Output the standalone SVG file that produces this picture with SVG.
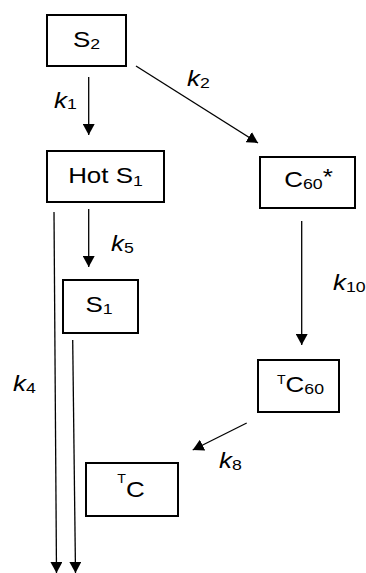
<svg xmlns="http://www.w3.org/2000/svg" width="366" height="573" viewBox="0 0 366 573">
<style>
.box{fill:#fff;stroke:#000;stroke-width:2}
.t{font-family:"Liberation Sans",Arial,sans-serif;font-size:22px;fill:#000}
.c{text-anchor:middle}
.k{font-style:italic}
.sub{font-style:normal;font-size:15px}
.sup{font-size:12px}
.ln{stroke:#000;stroke-width:1.3;fill:none}
</style>
<defs>
<marker id="ah" markerUnits="userSpaceOnUse" markerWidth="12" markerHeight="12" refX="11" refY="6" orient="auto">
<path d="M0,0 L11,6 L0,12 z" fill="#000"/>
</marker>
</defs>
<g id="connectors">
<line class="ln" x1="88.7" y1="77" x2="88.7" y2="135" marker-end="url(#ah)"/>
<line class="ln" x1="136" y1="66" x2="258" y2="143" marker-end="url(#ah)"/>
<line class="ln" x1="88.7" y1="209" x2="88.7" y2="267" marker-end="url(#ah)"/>
<line class="ln" x1="301.7" y1="221" x2="301.7" y2="345" marker-end="url(#ah)"/>
<line class="ln" x1="246.7" y1="423" x2="192.7" y2="450" marker-end="url(#ah)"/>
<line class="ln" x1="54" y1="212" x2="56.5" y2="573" marker-end="url(#ah)"/>
<line class="ln" x1="72.7" y1="340" x2="75.5" y2="573" marker-end="url(#ah)"/>
<text class="t k" transform="translate(54,107.7) scale(1.18,1)">k<tspan class="sub" dy="1.5">1</tspan></text>
<text class="t k" transform="translate(187,86) scale(1.18,1)">k<tspan class="sub" dy="1.5">2</tspan></text>
<text class="t k" transform="translate(111,251) scale(1.18,1)">k<tspan class="sub" dy="1.5">5</tspan></text>
<text class="t k" transform="translate(333,290) scale(1.18,1)">k<tspan class="sub" dy="1.5">10</tspan></text>
<text class="t k" transform="translate(13,391) scale(1.18,1)">k<tspan class="sub" dy="1.5">4</tspan></text>
<text class="t k" transform="translate(219,468.3) scale(1.18,1)">k<tspan class="sub" dy="1.5">8</tspan></text>
</g>
<g id="S2">
<rect class="box" x="47" y="15" width="79" height="51"/>
<text class="t c" transform="translate(86.5,46.7) scale(1.18,1)">S<tspan class="sub" dy="2">2</tspan></text>
</g>
<g id="HotS1">
<rect class="box" x="47" y="151" width="117" height="51"/>
<text class="t c" transform="translate(105.5,183.3) scale(1.18,1)">Hot S<tspan class="sub" dy="2.5">1</tspan></text>
</g>
<g id="C60star">
<rect class="box" x="260" y="157" width="95" height="51"/>
<text class="t c" transform="translate(308.5,187.3) scale(1.18,1)">C<tspan class="sub" dy="2">60</tspan><tspan dy="-5.3">*</tspan></text>
</g>
<g id="S1">
<rect class="box" x="63" y="280" width="75" height="53"/>
<text class="t c" transform="translate(99,311.7) scale(1.18,1)">S<tspan class="sub" dy="2.5">1</tspan></text>
</g>
<g id="TC60">
<rect class="box" x="258" y="360" width="81" height="52"/>
<text class="t c" transform="translate(300.5,392.3) scale(1.18,1)"><tspan class="sup" dy="-8.7">T</tspan><tspan dy="8.7">C</tspan><tspan class="sub" dy="2">60</tspan></text>
</g>
<g id="TC">
<rect class="box" x="86" y="463" width="92" height="53"/>
<text class="t c" transform="translate(131,496.7) scale(1.18,1)"><tspan class="sup" dy="-13.4">T</tspan><tspan dy="13.4">C</tspan></text>
</g>
</svg>
